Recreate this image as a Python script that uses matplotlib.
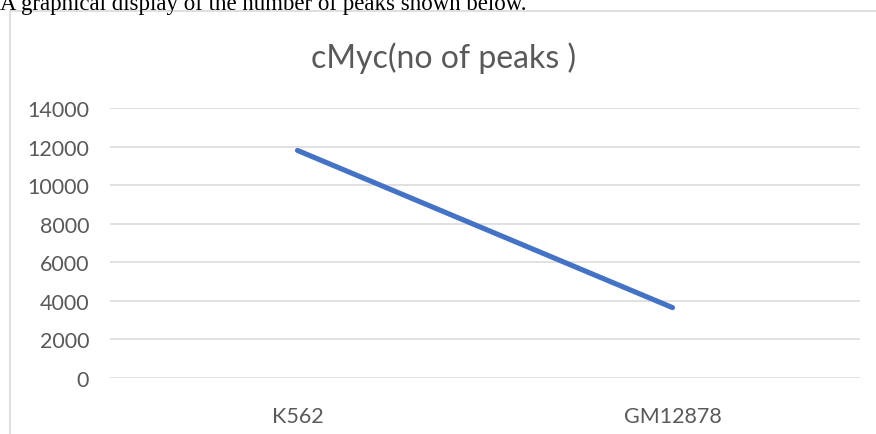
import matplotlib.pyplot as plt
from matplotlib.lines import Line2D

cells = ['K562', 'GM12878']
peaks = [11800, 3650]
yticks = [0, 2000, 4000, 6000, 8000, 10000, 12000, 14000]

W, H = 876, 435
fig = plt.figure(figsize=(W / 100, H / 100), dpi=100)
fig.patch.set_facecolor('white')

# sentence from the document above the chart, clipped at the top
fig.text(0, 1 - 10 / H, 'A graphical display of the number of peaks shown below.',
         family='Liberation Serif', fontsize=16.5, color='black', va='baseline', ha='left')

# chart frame (left and top edges visible)
frame_col = '#d9d9d9'
fig.add_artist(Line2D([10 / W, 10 / W], [0, 1 - 12 / H], color=frame_col, lw=1.2,
                      transform=fig.transFigure))
fig.add_artist(Line2D([10 / W, 1], [1 - 12 / H, 1 - 12 / H], color=frame_col, lw=1.2,
                      transform=fig.transFigure))

ax = fig.add_axes([110 / W, 1 - 379 / H, 750 / W, 270 / H])
ax.plot(range(len(cells)), peaks, color='#4472C4', lw=3.7, solid_capstyle='round')

ax.set_xlim(-0.5, len(cells) - 0.5)
ax.set_ylim(0, 14000)
ax.set_yticks(yticks)
ax.set_xticks(range(len(cells)))
ax.set_xticklabels(cells)
ax.grid(axis='y', color='#d9d9d9', lw=1.1)
ax.set_axisbelow(True)
for s in ax.spines.values():
    s.set_visible(False)
ax.tick_params(length=0, labelcolor='#595959', labelsize=15.5)
ax.tick_params(axis='y', pad=15)
ax.tick_params(axis='x', pad=20)
for lbl in ax.get_xticklabels() + ax.get_yticklabels():
    lbl.set_family('Lato')

fig.text(444 / W, 1 - 58 / H, 'cMyc(no of peaks )', family='Lato', fontsize=23,
         color='#595959', ha='center', va='center')

fig.savefig('out.png', dpi=100)
